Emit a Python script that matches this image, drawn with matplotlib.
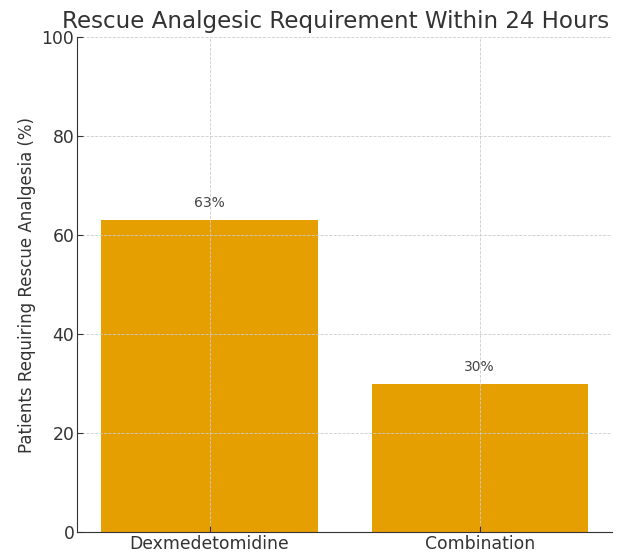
import matplotlib
matplotlib.use("Agg")
import matplotlib.pyplot as plt

# Share of patients needing rescue analgesia in each group
groups = ["Dexmedetomidine", "Combination"]
rescue_pct = [63, 30]

plt.rcParams["text.color"] = "#333333"
plt.rcParams["axes.labelcolor"] = "#333333"
plt.rcParams["xtick.color"] = "#333333"
plt.rcParams["ytick.color"] = "#333333"

fig = plt.figure(figsize=(6.22, 5.55), dpi=100)
ax = fig.add_axes([0.124, 0.041, 0.86, 0.892])

bars = ax.bar(groups, rescue_pct, color="#E69F00", width=0.8)

# label each bar with its value
for bar, pct in zip(bars, rescue_pct):
    ax.text(bar.get_x() + bar.get_width() / 2, pct + 2, f"{pct}%",
            ha="center", va="bottom", fontsize=10, color="#444444")

ax.set_ylim(0, 100)
ax.set_title("Rescue Analgesic Requirement Within 24 Hours", fontsize=16.6, color="#333333",
             x=0.483, pad=6.5)
ax.set_ylabel("Patients Requiring Rescue Analgesia (%)", fontsize=12)
ax.tick_params(axis="both", labelsize=12.4, direction="in", length=4, pad=2)

ax.grid(True, linestyle="--", linewidth=0.6, color="#cccccc")
ax.spines["top"].set_visible(False)
ax.spines["right"].set_visible(False)
ax.spines["left"].set_color("#333333")
ax.spines["bottom"].set_color("#333333")

fig.savefig("out.png", dpi=100)
